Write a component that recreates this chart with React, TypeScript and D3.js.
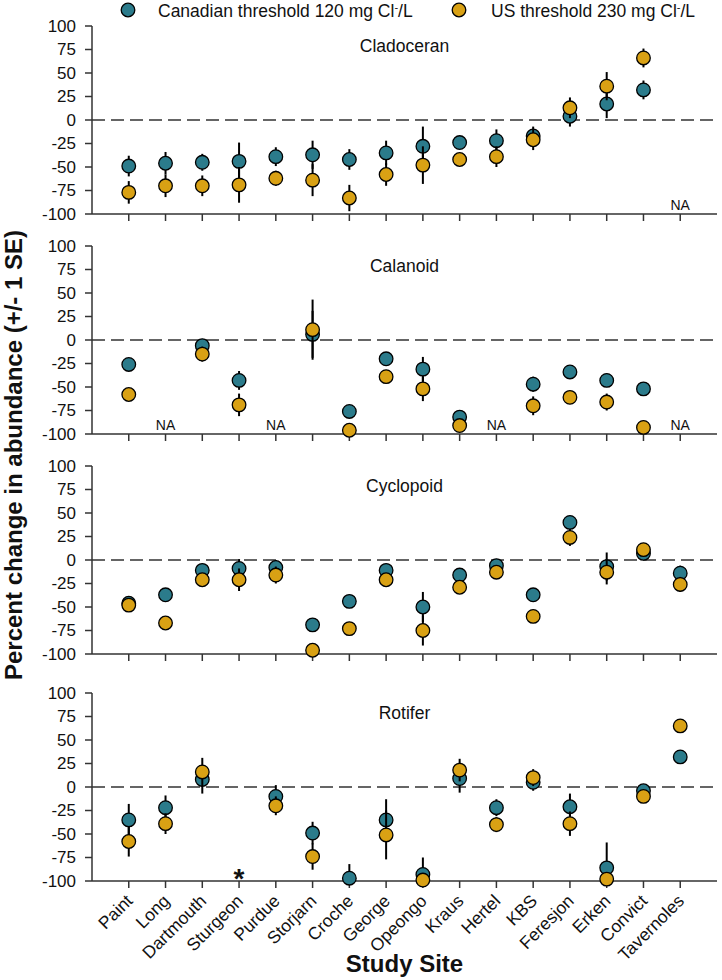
import React from "react";
import * as d3 from "d3";

const sites = ["Paint","Long","Dartmouth","Sturgeon","Purdue","Storjarn","Croche","George","Opeongo","Kraus","Hertel","KBS","Feresjon","Erken","Convict","Tavernoles"];
const panelNames = ["Cladoceran","Calanoid","Cyclopoid","Rotifer"];
const yTicks = [-100,-75,-50,-25,0,25,50,75,100];

type V = number | null;
// Canadian threshold (120 mg Cl-/L)
const cladCan: V[] = [-49,-46,-45,-44,-39,-37,-42,-35,-28,-24,-22,-17,4,17,32,null];
const cladCanSE: V[] = [11,12,9,20,10,15,11,13,21,3,12,10,11,15,10,null];
const calaCan: V[] = [-26,null,-6,-43,null,6,-76,-20,-31,-82,null,-47,-34,-43,-52,null];
const calaCanSE: V[] = [2,null,3,10,null,25,2,2,13,3,null,8,2,7,2,null];
const cyclCan: V[] = [-46,-37,-11,-9,-8,-69,-44,-11,-50,-16,-6,-37,40,-7,7,-14];
const cyclCanSE: V[] = [2,2,5,10,8,2,2,5,16,2,2,5,5,15,3,8];
const rotiCan: V[] = [-35,-22,8,null,-10,-49,-97,-35,-93,9,-22,5,-21,-86,-4,32];
const rotiCanSE: V[] = [17,13,15,null,12,12,15,22,18,15,9,9,14,27,2,6];
// US threshold (230 mg Cl-/L)
const cladUS: V[] = [-77,-70,-70,-69,-62,-64,-83,-58,-48,-42,-39,-21,13,36,66,null];
const cladUSSE: V[] = [12,12,11,19,8,17,14,12,20,2,11,11,11,15,10,null];
const calaUS: V[] = [-58,null,-15,-69,null,11,-96,-39,-52,-91,null,-70,-61,-66,-93,null];
const calaUSSE: V[] = [2,null,8,12,null,32,2,2,13,3,null,10,2,9,2,null];
const cyclUS: V[] = [-48,-67,-21,-21,-16,-96,-73,-21,-75,-29,-13,-60,24,-13,11,-26];
const cyclUSSE: V[] = [2,2,7,12,9,3,2,6,16,2,2,6,9,13,6,8];
const rotiUS: V[] = [-58,-39,16,null,-20,-74,null,-51,-99,18,-40,10,-39,-98,-10,65];
const rotiUSSE: V[] = [16,11,15,null,10,14,null,26,2,12,8,9,13,2,2,7];

const canSeries = [cladCan, calaCan, cyclCan, rotiCan];
const canSE = [cladCanSE, calaCanSE, cyclCanSE, rotiCanSE];
const usSeries = [cladUS, calaUS, cyclUS, rotiUS];
const usSE = [cladUSSE, calaUSSE, cyclUSSE, rotiUSSE];
// NA labels per panel (site indices), and asterisk markers
const naSites = [[15],[1,4,10,15],[],[]];
const starSites = [[],[],[],[3]];

const TEAL = "#2b7b8b";
const GOLD = "#d9a114";
const FONT = "'Liberation Sans', Arial, sans-serif";

const W = 722, H = 980;
const X0 = 92, X1 = 717;
const panelTops = [26, 246, 466, 693];
const PH = 188;

export default function App() {
  const x = d3.scalePoint<string>().domain(sites).range([X0, X1]).padding(1);
  const renderSeries = (vals: V[], ses: V[], y: d3.ScaleLinear<number, number>, color: string, key: string) => (
    <g key={key}>
      {vals.map((v, i) => {
        if (v == null) return null;
        const se = ses[i] ?? 0;
        const lo = Math.max(-100, v - se), hi = Math.min(100, v + se);
        return <line key={"e" + i} x1={x(sites[i])} x2={x(sites[i])} y1={y(lo)} y2={y(hi)} stroke="#000" strokeWidth={2} />;
      })}
      {vals.map((v, i) => v == null ? null : (
        <circle key={"c" + i} cx={x(sites[i])} cy={y(v)} r={6.8} fill={color} stroke="#000" strokeWidth={1.3} />
      ))}
    </g>
  );
  return (
    <svg width={W} height={H} style={{ display: "block", position: "absolute", left: 0, top: 0 }} fontFamily={FONT}>
      <rect width={W} height={H} fill="#fff" />
      {/* legend */}
      <g>
        <circle cx={128} cy={10} r={6.8} fill={TEAL} stroke="#000" strokeWidth={1.3} />
        <text x={158} y={17} fontSize={17.5} fill="#111">Canadian threshold 120 mg Cl<tspan dy={-6} fontSize={11}>-</tspan><tspan dy={6}>/L</tspan></text>
        <circle cx={459} cy={10} r={6.8} fill={GOLD} stroke="#000" strokeWidth={1.3} />
        <text x={491} y={17} fontSize={17.5} fill="#111">US threshold 230 mg Cl<tspan dy={-6} fontSize={11}>-</tspan><tspan dy={6}>/L</tspan></text>
      </g>
      {panelNames.map((name, p) => {
        const top = panelTops[p];
        const y = d3.scaleLinear().domain([-100, 100]).range([top + PH, top]);
        return (
          <g key={name}>
            <text x={(X0 + X1) / 2} y={top + 26} fontSize={17.5} textAnchor="middle" fill="#111">{name}</text>
            <line x1={X0} x2={X1} y1={y(0)} y2={y(0)} stroke="#333" strokeWidth={1.6} strokeDasharray="13,6" />
            {/* y axis */}
            <line x1={X0} x2={X0} y1={y(-100)} y2={y(100)} stroke="#333" strokeWidth={1.5} />
            {yTicks.map(t => (
              <g key={t}>
                <line x1={X0 - 7} x2={X0} y1={y(t)} y2={y(t)} stroke="#333" strokeWidth={1.5} />
                <text x={X0 - 16} y={y(t)} dy="0.35em" fontSize={17} textAnchor="end" fill="#111">{t}</text>
              </g>
            ))}
            {/* x axis */}
            <line x1={X0} x2={X1} y1={y(-100)} y2={y(-100)} stroke="#333" strokeWidth={1.5} />
            {sites.map(s => (
              <line key={s} x1={x(s)} x2={x(s)} y1={y(-100)} y2={y(-100) + 7} stroke="#333" strokeWidth={1.5} />
            ))}
            {naSites[p].map(i => (
              <text key={"na" + i} x={x(sites[i])} y={y(-100) - 4} fontSize={14} textAnchor="middle" fill="#111">NA</text>
            ))}
            {starSites[p].map(i => (
              <text key={"st" + i} x={x(sites[i])} y={y(-100) + 7} fontSize={28} fontWeight="bold" textAnchor="middle" fill="#111">*</text>
            ))}
            {renderSeries(canSeries[p], canSE[p], y, TEAL, "can")}
            {renderSeries(usSeries[p], usSE[p], y, GOLD, "us")}
          </g>
        );
      })}
      {/* category labels */}
      {sites.map(s => (
        <text key={s} transform={`translate(${(x(s) ?? 0) + 5},${902}) rotate(-45)`} fontSize={17.5} textAnchor="end" fill="#111">{s}</text>
      ))}
      <text x={(X0 + X1) / 2} y={972} fontSize={24} fontWeight="bold" textAnchor="middle" fill="#111">Study Site</text>
      <text transform={`translate(22,455) rotate(-90)`} fontSize={24} fontWeight="bold" textAnchor="middle" fill="#111">Percent change in abundance (+/- 1 SE)</text>
    </svg>
  );
}
